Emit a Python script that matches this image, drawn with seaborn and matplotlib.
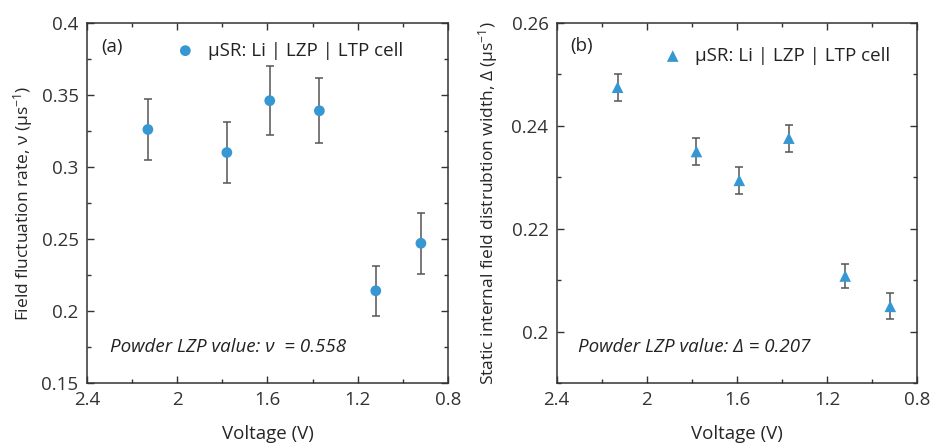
import numpy as np
import pandas as pd
import seaborn as sns
import matplotlib.pyplot as plt
from matplotlib.ticker import MultipleLocator, AutoMinorLocator

# data
voltage = [2.13, 1.78, 1.59, 1.37, 1.12, 0.92]
nu = [0.326, 0.310, 0.346, 0.339, 0.214, 0.247]
nu_err = [0.021, 0.021, 0.024, 0.0225, 0.0175, 0.021]
delta = [0.2475, 0.2350, 0.2294, 0.2376, 0.2108, 0.2049]
delta_err = [0.0026, 0.0026, 0.0026, 0.0026, 0.0023, 0.0025]

blue = '#3797d3'
label = 'μSR: Li | LZP | LTP cell'

sns.set_style('ticks')
plt.rcParams['font.family'] = ['Open Sans', 'DejaVu Sans']
plt.rcParams['mathtext.fontset'] = 'custom'
plt.rcParams['mathtext.rm'] = 'Open Sans'
plt.rcParams['mathtext.it'] = 'Open Sans:italic'
plt.rcParams['axes.edgecolor'] = '#333333'
plt.rcParams['xtick.color'] = '#333333'
plt.rcParams['ytick.color'] = '#333333'
plt.rcParams['text.color'] = '#222222'

df = pd.DataFrame({'V': voltage, 'nu': nu, 'nu_err': nu_err,
                   'delta': delta, 'delta_err': delta_err})

fig = plt.figure(figsize=(9.31, 4.44), dpi=100)
ax1 = fig.add_axes([0.0934, 0.1374, 0.3878, 0.811])
ax2 = fig.add_axes([0.598, 0.1374, 0.3873, 0.811])

ax1.errorbar(df['V'], df['nu'], yerr=df['nu_err'], fmt='none', ecolor='#555555',
             elinewidth=1.1, capsize=3, capthick=1.1, zorder=1)
sns.scatterplot(data=df, x='V', y='nu', ax=ax1, color=blue, s=60, marker='o',
                edgecolor='none', label=label, zorder=2)

ax2.errorbar(df['V'], df['delta'], yerr=df['delta_err'], fmt='none', ecolor='#555555',
             elinewidth=1.1, capsize=3, capthick=1.1, zorder=1)
sns.scatterplot(data=df, x='V', y='delta', ax=ax2, color=blue, s=70, marker='^',
                edgecolor='none', label=label, zorder=2)

ax1.set_ylim(0.15, 0.4)
ax1.set_yticks([0.15, 0.2, 0.25, 0.3, 0.35, 0.4])
ax1.set_yticklabels(['0.15', '0.2', '0.25', '0.3', '0.35', '0.4'])
ax1.set_ylabel('Field fluctuation rate, ν (μs$^{-1}$)', fontsize=12.5, labelpad=5)

ax2.set_ylim(0.19, 0.26)
ax2.set_yticks([0.2, 0.22, 0.24, 0.26])
ax2.set_yticklabels(['0.2', '0.22', '0.24', '0.26'])
ax2.set_ylabel('Static internal field distrubtion width, Δ (μs$^{-1}$)', fontsize=12.5, labelpad=8)

for ax in (ax1, ax2):
    ax.set_xlim(2.4, 0.8)
    ax.set_xticks([2.4, 2.0, 1.6, 1.2, 0.8])
    ax.set_xticklabels(['2.4', '2', '1.6', '1.2', '0.8'])
    ax.xaxis.set_minor_locator(AutoMinorLocator(2))
    ax.yaxis.set_minor_locator(AutoMinorLocator(2))
    ax.tick_params(which='both', direction='in', top=True, right=True, labelsize=13.5, pad=6)
    ax.tick_params(which='major', length=5, width=1)
    ax.tick_params(which='minor', length=3, width=1)
    for sp in ax.spines.values():
        sp.set_linewidth(1.1)
    ax.set_xlabel('Voltage (V)', fontsize=13.5, labelpad=11)

leg1 = ax1.legend(loc='upper right', bbox_to_anchor=(0.922, 0.995), frameon=False,
                  fontsize=13.5, handlelength=1.0, handletextpad=0.7)
leg2 = ax2.legend(loc='upper right', bbox_to_anchor=(0.972, 0.98), frameon=False,
                  fontsize=13.5, handlelength=1.0, handletextpad=0.7)

ax1.text(2.338, 0.383, '(a)', fontsize=13.5, ha='left', va='center')
ax2.text(2.341, 0.2555, '(b)', fontsize=13.5, ha='left', va='center')
ax1.text(2.30, 0.175, 'Powder LZP value: ν  = 0.558', fontsize=13.5, style='italic',
         ha='left', va='center')
ax2.text(2.304, 0.197, 'Powder LZP value: Δ = 0.207', fontsize=13.5, style='italic',
         ha='left', va='center')

fig.savefig('out.png', dpi=100)
